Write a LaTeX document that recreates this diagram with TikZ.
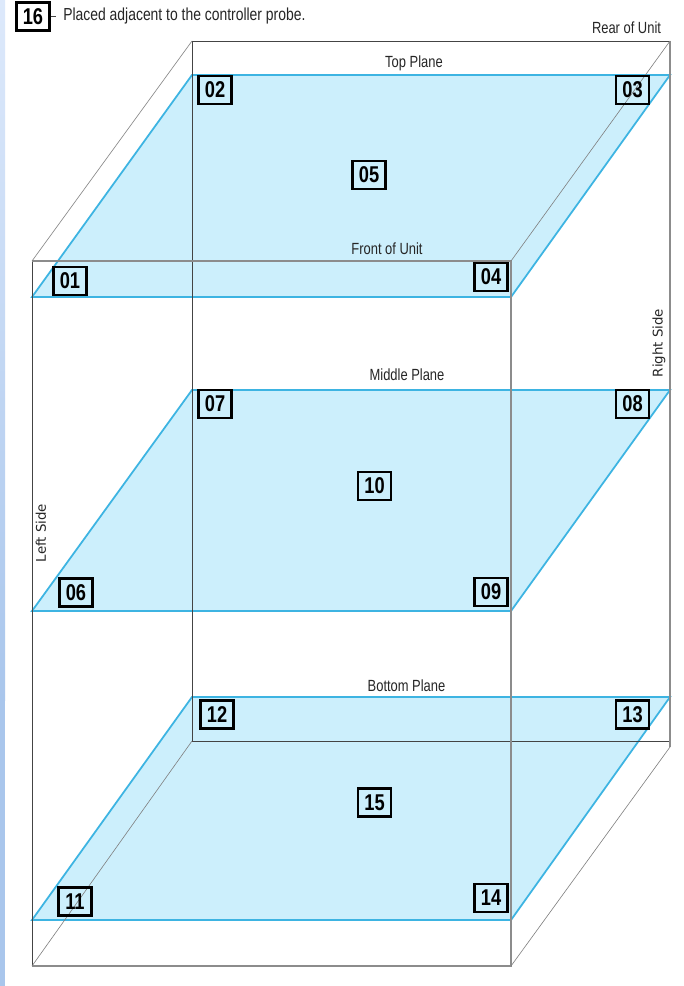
\documentclass[tikz,border=0pt]{standalone}
\usepackage{xcolor}
\usepackage{fontspec}
\setmainfont[FakeStretch=0.8]{Liberation Sans}
\newfontfamily\sidefont{DejaVu Sans}
\definecolor{planefill}{HTML}{CCEFFC}
\definecolor{planeedge}{HTML}{3DB4E2}
\definecolor{unitdark}{HTML}{444444}
\definecolor{unitgray}{HTML}{8C8C8C}
\definecolor{stripetop}{HTML}{DDE9FB}
\definecolor{stripebot}{HTML}{A9C6EC}
\tikzset{
  plane/.style={fill=planefill,draw=planeedge,line width=1pt},
  darkline/.style={draw=unitdark,line width=.45pt},
  grayline/.style={draw=unitgray,line width=.7pt},
  thinline/.style={draw=gray,line width=.35pt},
  probe/.style={draw=black,line width=1.45pt,minimum width=.66cm,minimum height=.56cm,inner sep=0pt,font=\bfseries\fontsize{13}{14}\selectfont},
  caption/.style={font=\fontsize{9.2}{11}\selectfont,text=black!85,inner sep=0pt},
  sidecap/.style={font=\sidefont\fontsize{7.6}{9}\selectfont,text=black!85,rotate=90,inner sep=0pt},
}
\begin{document}
\begin{tikzpicture}[x=.02cm,y=-.02cm]
  \useasboundingbox (0,0) rectangle (683,986);
  \fill[white] (0,0) rectangle (683,986);
  \fill[top color=stripetop,bottom color=stripebot] (0,0) rectangle (5,700);
  \fill[stripebot] (0,700) rectangle (5,986);

  % planes, top to bottom
  \draw[plane] (192,75) -- (670,75) -- (511,297) -- (32,297) -- cycle;
  \draw[plane] (192,390) -- (670,390) -- (511,611) -- (32,611) -- cycle;
  \draw[plane] (192,697) -- (670,697) -- (511,920) -- (32,920) -- cycle;

  % unit outline
  \coordinate (brl) at (192,41);
  \coordinate (brr) at (670,41);
  \coordinate (bfr) at (670,741);
  \coordinate (bfe) at (670,747);
  \coordinate (bfl) at (192,741);
  \coordinate (frl) at (32,261);
  \coordinate (frr) at (511,261);
  \coordinate (ffr) at (511,966);
  \coordinate (ffl) at (32,966);
  \draw[darkline] (brl) -- (brr);
  \draw[darkline] (brl) -- (bfl) -- (bfr);
  \draw[grayline] (brr) -- (bfe);
  \draw[darkline] (frl) -- (ffl);
  \draw[grayline] (frl) -- (frr) -- (ffr) -- (ffl);
  \draw[thinline] (frl) -- (brl);
  \draw[thinline] (frr) -- (brr);
  \draw[thinline] (ffr) -- (bfe);
  \draw[thinline] (ffl) -- (bfl);

  % probes
  \node[probe] (p16) at (33,16.5) {16};
  \node[probe] (p01) at (70,281) {01};
  \node[probe] (p02) at (215,90) {02};
  \node[probe] (p03) at (632.5,90) {03};
  \node[probe] (p04) at (491,277) {04};
  \node[probe] (p05) at (369,175) {05};
  \node[probe] (p06) at (76,592.5) {06};
  \node[probe] (p07) at (215,404) {07};
  \node[probe] (p08) at (632.5,404) {08};
  \node[probe] (p09) at (491,592) {09};
  \node[probe] (p10) at (374.5,486) {10};
  \node[probe] (p11) at (75,901.5) {11};
  \node[probe] (p12) at (217,714.5) {12};
  \node[probe] (p13) at (632.5,714.5) {13};
  \node[probe] (p14) at (491,898) {14};
  \node[probe] (p15) at (374.5,802.5) {15};

  % captions
  \node[caption,anchor=west,font=\fontsize{9.9}{12}\selectfont] (note) at (63,16) {Placed adjacent to the controller probe.};
  \coordinate (dash) at (56,16);
  \draw[darkline] (p16.east |- dash) -- (dash);
  \node[caption] (rear) at (626.5,28) {Rear of Unit};
  \node[caption] (top) at (414,63) {Top Plane};
  \node[caption] (front) at (387,248.5) {Front of Unit};
  \node[caption] (middle) at (407,374.5) {Middle Plane};
  \node[caption] (bottom) at (406.5,685.5) {Bottom Plane};
  \node[sidecap] (right) at (659,343) {Right Side};
  \node[sidecap] (left) at (41,533) {Left Side};
\end{tikzpicture}
\end{document}
